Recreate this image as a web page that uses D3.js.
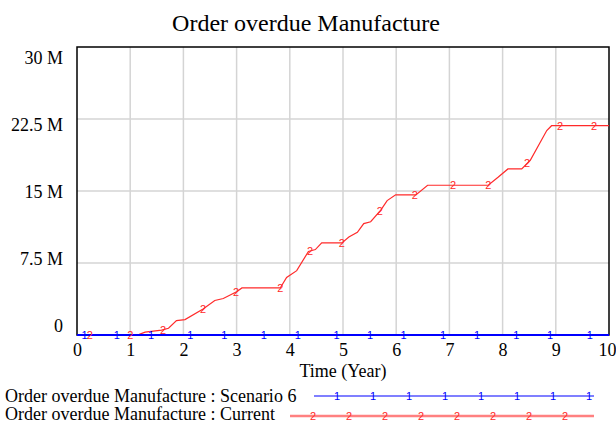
<!DOCTYPE html>
<html>
<head>
<meta charset="utf-8">
<script src="https://cdn.jsdelivr.net/npm/d3@7"></script>
<style>
  body { margin: 0; background: #fff; }
  .labelGraph { font-family: "Liberation Serif", "Times New Roman", serif; fill: #000; }
  .marker { font-family: "Liberation Sans", Arial, sans-serif; font-size: 11px; }
</style>
</head>
<body>
<svg id="chart" width="616" height="425"></svg>
<script>

/************************************************************************************************************/

var chartTitle = "Order overdue Manufacture";
var xLabel = "Time (Year)";
var xTicks = [0, 1, 2, 3, 4, 5, 6, 7, 8, 9, 10];
var yTicks = [0, 7.5, 15, 22.5, 30];
var yTickLabels = ["0", "7.5 M", "15 M", "22.5 M", "30 M"];

var seriesNames = ["Order overdue Manufacture : Scenario 6", "Order overdue Manufacture : Current"];
var seriesMarks = ["1", "2"];

// Scenario 6 (millions)
var scenarioTime = [0, 10];
var scenarioValue = [0, 0];
var scenarioMarkers = [0.14, 0.75, 1.39, 2.13, 2.77, 3.51, 4.15, 4.88, 5.51, 6.14, 6.88, 7.52, 8.26, 8.89, 9.64];

// Current (millions)
var currentTime = [0, 1.1, 1.17, 1.28, 1.59, 1.72, 1.87, 2.03, 2.37, 2.59, 2.75, 3.0, 3.1, 3.82, 3.94, 4.13,
  4.35, 4.48, 4.6, 4.98, 5.11, 5.27, 5.39, 5.52, 5.71, 5.83, 5.99, 6.37, 6.59, 7.73, 7.92, 8.1, 8.36,
  8.52, 8.83, 8.92, 10];
var currentValue = [0, 0, 0.07, 0.3, 0.5, 0.7, 1.5, 1.6, 2.7, 3.6, 3.8, 4.5, 4.9, 4.9, 6.0, 6.7,
  8.7, 8.9, 9.6, 9.6, 10.2, 10.7, 11.6, 11.8, 13.0, 14.0, 14.6, 14.6, 15.6, 15.6, 16.45, 17.3, 17.3,
  18.2, 21.3, 21.8, 21.8];
var currentMarkers = [0.24, 1.0, 1.62, 2.37, 2.99, 3.82, 4.38, 4.98, 5.69, 6.35, 7.07, 7.73, 8.46, 9.08, 9.72];

/************************************************************************************************************/

var svg = d3.select("#chart");
svg.margin = {left: 77, top: 47, right: 7, bottom: 90};
svg.width = 616 - svg.margin.left - svg.margin.right;
svg.height = 425 - svg.margin.top - svg.margin.bottom;

var x = d3.scaleLinear().domain([0, 10]).range([0, svg.width]);
var y = d3.scaleLinear().domain([0, 30]).range([svg.height, 0]);
// tick labels are spread evenly between the top and the bottom of the frame (baselines)
var yLabel = d3.scaleLinear().domain([0, 30]).range([svg.height - 3.3, 16.6]);

function valueAt(times, values, t){
  var i = d3.bisectRight(times, t);
  if(i <= 0) return values[0];
  if(i >= times.length) return values[values.length - 1];
  var k = (t - times[i - 1]) / (times[i] - times[i - 1]);
  return values[i - 1] + k * (values[i] - values[i - 1]);
}

var plot = svg.append("g").attr("transform", "translate(" + [svg.margin.left, svg.margin.top] + ")");

//grid
svg.grid = plot.append("g").attr("stroke", "#d4d4d4").attr("stroke-width", 1.5);
xTicks.slice(1, -1).forEach(function(t){
  svg.grid.append("line").attr("x1", x(t)).attr("x2", x(t)).attr("y1", 0).attr("y2", svg.height);
});
yTicks.slice(1, -1).forEach(function(v){
  svg.grid.append("line").attr("x1", 0).attr("x2", svg.width).attr("y1", y(v)).attr("y2", y(v));
});

//frame
plot.append("rect")
  .attr("x", 0).attr("y", 0)
  .attr("width", svg.width).attr("height", svg.height)
  .attr("fill", "none").attr("stroke", "#000").attr("stroke-width", 1.5);

//axes labels
var axisx = plot.append("g").attr("transform", "translate(0," + svg.height + ")")
  .call(d3.axisBottom(x).tickValues(xTicks).tickSize(0).tickPadding(0).tickFormat(d3.format("d")));
axisx.select(".domain").remove();
axisx.selectAll("text").attr("class", "labelGraph").style("font-size", "18px").attr("fill", "#000")
  .attr("y", 21).attr("dy", null)
  .attr("text-anchor", function(d){ return d === 10 ? "end" : "middle"; })
  .attr("x", function(d){ return d === 10 ? 616 - svg.margin.left - x(d) : 0; });

var axisy = plot.append("g")
  .call(d3.axisLeft(y).tickValues(yTicks).tickSize(0).tickPadding(14)
    .tickFormat(function(d, i){ return yTickLabels[i]; }));
axisy.select(".domain").remove();
axisy.selectAll("text").attr("class", "labelGraph").style("font-size", "18px").attr("fill", "#000")
  .attr("dy", function(d){ return (yLabel(d) - y(d)) + "px"; });

//lines
var line = d3.line().x(function(d){ return x(d[0]); }).y(function(d){ return y(d[1]); });

plot.append("path")
  .datum(currentTime.map(function(t, i){ return [t, currentValue[i]]; }))
  .attr("d", line).attr("fill", "none").attr("stroke", "#ff2a2a").attr("stroke-width", 1.2);

plot.append("path")
  .datum(scenarioTime.map(function(t, i){ return [t, scenarioValue[i]]; }))
  .attr("d", line).attr("fill", "none").attr("stroke", "#0000ff").attr("stroke-width", 2);

//markers
plot.selectAll(".m2").data(currentMarkers).enter().append("text")
  .attr("class", "marker").attr("fill", "#ff2a2a").attr("text-anchor", "middle").attr("dy", "0.35em")
  .attr("x", function(d){ return x(d); })
  .attr("y", function(d){ return y(valueAt(currentTime, currentValue, d)); })
  .text(seriesMarks[1]);

plot.selectAll(".m1").data(scenarioMarkers).enter().append("text")
  .attr("class", "marker").attr("fill", "#0000ff").attr("text-anchor", "middle").attr("dy", "0.35em")
  .attr("x", function(d){ return x(d); })
  .attr("y", function(d){ return y(valueAt(scenarioTime, scenarioValue, d)); })
  .text(seriesMarks[0]);

//title
svg.append("text").attr("class", "labelGraph")
  .attr("x", 306).attr("y", 31).attr("text-anchor", "middle").style("font-size", "24px")
  .text(chartTitle);

svg.append("text").attr("class", "labelGraph")
  .attr("x", svg.margin.left + svg.width / 2).attr("y", 377).attr("text-anchor", "middle").style("font-size", "18px")
  .text(xLabel);

/************************************************************************************************************/

//legend
var legend = [
  {name: seriesNames[0], mark: seriesMarks[0], color: "#0000ff", text: "#0000ff", x1: 314, y: 396, base: 402, first: 337, width: 1.2},
  {name: seriesNames[1], mark: seriesMarks[1], color: "#ff8080", text: "#ff2a2a", x1: 290, y: 416, base: 420, first: 313, width: 2.5}
];

legend.forEach(function(l){
  svg.append("text").attr("class", "labelGraph")
    .attr("x", 5).attr("y", l.base).style("font-size", "18px")
    .text(l.name);
  svg.append("line").attr("x1", l.x1).attr("x2", 594).attr("y1", l.y).attr("y2", l.y)
    .attr("stroke", l.color).attr("stroke-width", l.width);
  svg.selectAll(null).data(d3.range(8)).enter().append("text")
    .attr("class", "marker").attr("fill", l.text).attr("text-anchor", "middle").attr("dy", "0.35em")
    .attr("x", function(d){ return l.first + d * 36; })
    .attr("y", l.y)
    .text(l.mark);
});

</script>
</body>
</html>
